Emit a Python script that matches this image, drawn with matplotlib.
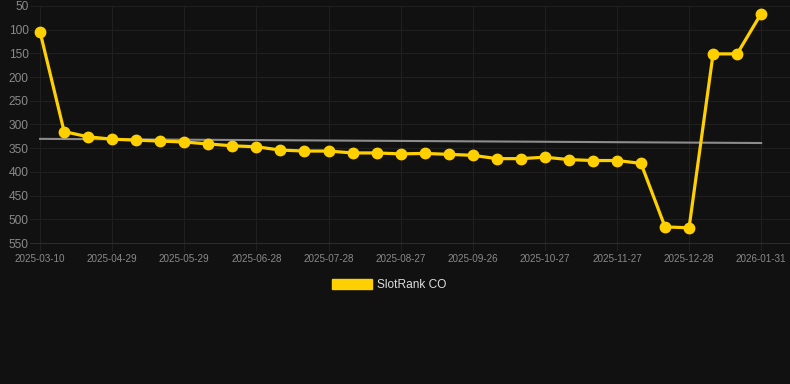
import numpy as np
import matplotlib.pyplot as plt
from matplotlib.patches import Patch

plt.rcParams['font.family'] = ['Liberation Sans', 'DejaVu Sans']

# rank values (lower = better, axis is reversed)
rank = [105, 315, 326, 331, 333, 335, 337, 341, 345, 347,
        354, 356, 356, 360, 360, 362, 361, 363, 365, 372,
        372, 369, 374, 376, 376, 382, 516, 518, 151, 151, 66]
tick_labels = ['2025-03-10', '2025-04-29', '2025-05-29', '2025-06-28',
               '2025-07-28', '2025-08-27', '2025-09-26', '2025-10-27',
               '2025-11-27', '2025-12-28', '2026-01-31']
series_name = 'SlotRank CO'

bg = '#111111'
yellow = '#ffd000'
grid = '#202020'
txt = '#8a8a8a'

x = np.arange(len(rank))

fig = plt.figure(figsize=(7.9, 3.84), dpi=100, facecolor=bg)
ax = fig.add_axes([30/790, (384-243)/384, 1 - 30/790, (243-6)/384])
ax.set_facecolor(bg)

# linear trend
k, b = np.polyfit(x, rank, 1)
ax.plot(x, k*x + b, color='#8c8c8c', lw=1.5, zorder=2)

ax.plot(x, rank, color=yellow, lw=2.3, marker='o', ms=7.5,
        markerfacecolor=yellow, markeredgecolor=yellow, zorder=3)

ax.set_xlim(-0.42, 31.2)
ax.set_ylim(550, 50)
ax.set_yticks(np.arange(50, 551, 50))
ax.set_xticks(x[::3])
ax.set_xticklabels(tick_labels)

ax.grid(True, color=grid, lw=0.75)
ax.set_axisbelow(True)
for s in ['top', 'right', 'left']:
    ax.spines[s].set_visible(False)
ax.spines['bottom'].set_color('#2c2c2c')
ax.spines['bottom'].set_linewidth(0.75)
ax.tick_params(axis='x', colors=grid, labelcolor=txt, labelsize=7.1, length=6,
               width=0.75, pad=2)
ax.tick_params(axis='y', length=0, labelcolor=txt, labelsize=8.6, pad=1)

fig.legend(handles=[Patch(facecolor=yellow, edgecolor=yellow, label=series_name)],
           loc='center', bbox_to_anchor=(0.493, 1 - 285/384), frameon=False,
           fontsize=8.6, labelcolor='#dddddd', handlelength=3.3, handleheight=1.0,
           handletextpad=0.5)

fig.savefig('out.png', dpi=100, facecolor=bg)
